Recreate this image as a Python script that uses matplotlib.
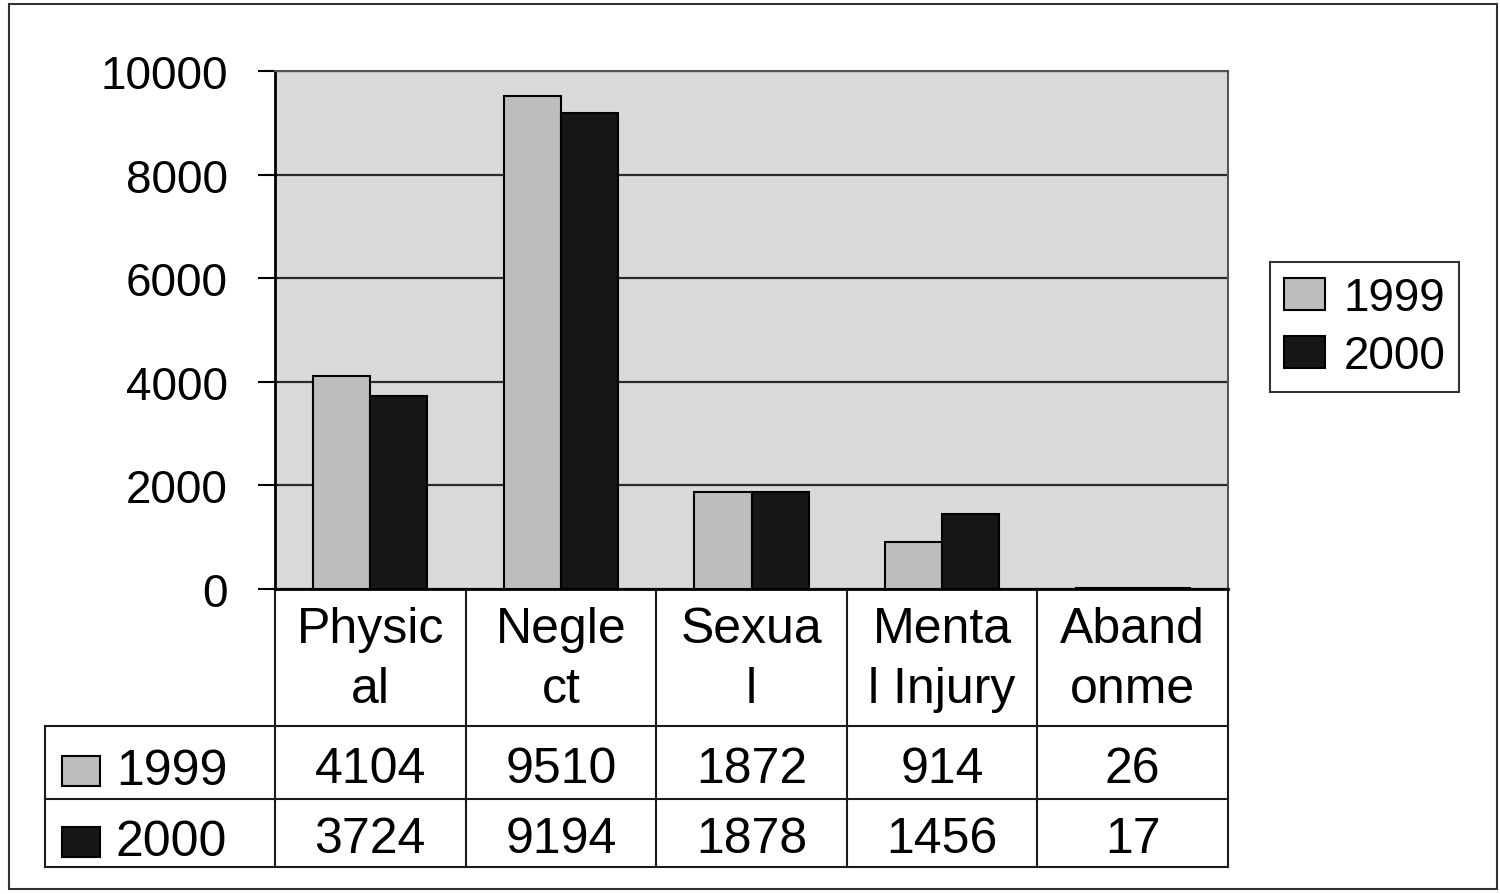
import matplotlib.pyplot as plt
import matplotlib.transforms as mtransforms
from matplotlib.patches import Rectangle, Patch
import numpy as np

categories = ["Physic\nal", "Negle\nct", "Sexua\nl", "Menta\nl Injury", "Aband\nonme"]
series_names = ["1999", "2000"]
v1999 = [4104, 9510, 1872, 914, 26]
v2000 = [3724, 9194, 1878, 1456, 17]
yticks = [0, 2000, 4000, 6000, 8000, 10000]

c1999 = "#bdbdbd"
c2000 = "#161616"

plt.rcParams['font.family'] = ['Liberation Sans', 'DejaVu Sans']

W, H = 1500, 895
fig = plt.figure(figsize=(15, 8.95), dpi=100)
fig.patch.set_facecolor("white")

# helper: pixel y (from top) -> axes fraction of plot area
ax_top, ax_bot = 72, 590
def ay(p):
    return (ax_bot - p) / (ax_bot - ax_top)

ax = fig.add_axes([275 / W, (H - ax_bot) / H, (1228 - 275) / W, (ax_bot - ax_top) / H])
ax.set_facecolor("#dadada")
x = np.arange(len(categories))
ax.bar(x - 0.15, v1999, 0.3, color=c1999, edgecolor="black", linewidth=1.5, zorder=3)
ax.bar(x + 0.15, v2000, 0.3, color=c2000, edgecolor="black", linewidth=1.5, zorder=3)
ax.set_xlim(-0.5, len(categories) - 0.5)
ax.set_ylim(0, 10000)
ax.set_yticks(yticks)
ax.set_yticklabels([str(t) for t in yticks], fontsize=33)
ax.yaxis.grid(True, color="#2a2a2a", linewidth=1.6, zorder=1)
ax.set_axisbelow(True)
ax.set_xticks([])
ax.tick_params(axis="y", direction="out", length=12, width=1.5, pad=22)
for s in ["left", "bottom"]:
    ax.spines[s].set_color("black")
    ax.spines[s].set_linewidth(2)
for s in ["top", "right"]:
    ax.spines[s].set_color("#555555")
    ax.spines[s].set_linewidth(1.5)

# data table under the chart
tr = mtransforms.blended_transform_factory(ax.transData, ax.transAxes)
n = len(categories)
lc = "#1a1a1a"
for i in range(n + 1):
    ax.plot([i - 0.5, i - 0.5], [ay(590), ay(868)], color=lc, lw=1.5,
            transform=tr, clip_on=False)
left_ax = (45 - 275) / (1228 - 275)
for p in [727, 800, 868]:
    ax.plot([left_ax, 1.0], [ay(p), ay(p)], color=lc, lw=1.5,
            transform=ax.transAxes, clip_on=False)
ax.plot([left_ax, left_ax], [ay(727), ay(868)], color=lc, lw=1.5,
        transform=ax.transAxes, clip_on=False)

fs = 36
for i, cat in enumerate(categories):
    l1, l2 = cat.split("\n")
    ax.text(i, ay(630), l1, transform=tr, ha="center", va="center", fontsize=fs)
    ax.text(i, ay(690), l2, transform=tr, ha="center", va="center", fontsize=fs)
    ax.text(i, ay(770), str(v1999[i]), transform=tr, ha="center", va="center", fontsize=fs)
    ax.text(i, ay(840), str(v2000[i]), transform=tr, ha="center", va="center", fontsize=fs)

ov = fig.add_axes([0, 0, 1, 1])
ov.set_xlim(0, W)
ov.set_ylim(H, 0)
ov.axis("off")
ov.set_zorder(5)
ov.patch.set_alpha(0)
for (yc, name, col) in [(772, series_names[0], c1999), (843, series_names[1], c2000)]:
    ov.add_patch(Rectangle((62, yc - 15), 38, 30, facecolor=col, edgecolor="black", lw=1.5))
    ov.text(116, yc, name, ha="left", va="center", fontsize=fs)

# outer border of the chart
ov.add_patch(Rectangle((9, 5), 1488, 885, fill=False, edgecolor="#333333", lw=1.5))

# legend
handles = [Patch(facecolor=c1999, edgecolor="black", lw=1.5),
           Patch(facecolor=c2000, edgecolor="black", lw=1.5)]
leg = fig.legend(handles, series_names, loc="center left",
                 bbox_to_anchor=(1270 / W, (H - 328) / H), fontsize=33,
                 frameon=True, fancybox=False, edgecolor="black",
                 handlelength=0.9, handleheight=0.7, handletextpad=0.4,
                 borderpad=0.3, labelspacing=0.3, borderaxespad=0)
leg.get_frame().set_linewidth(1.5)

fig.savefig("out.png", dpi=100, facecolor="white")
